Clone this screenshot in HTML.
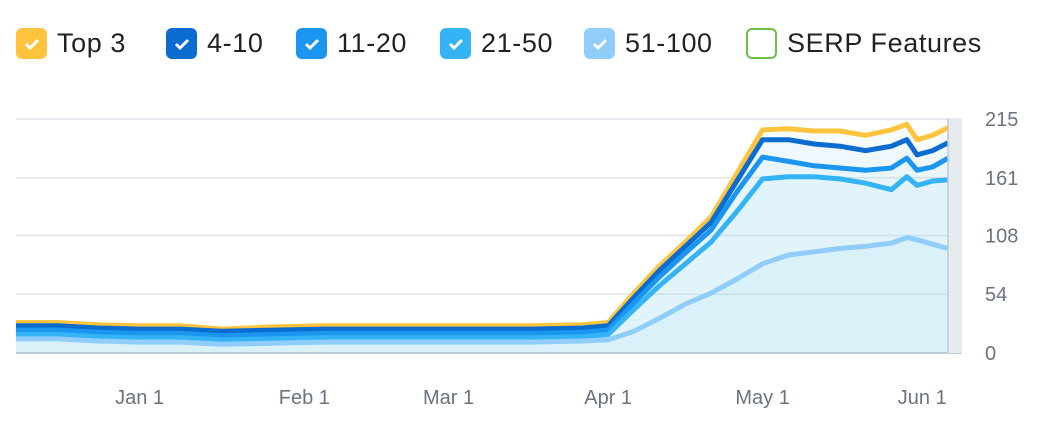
<!DOCTYPE html>
<html><head><meta charset="utf-8"><style>
body{margin:0;width:1042px;height:444px;background:#fff;font-family:"Liberation Sans",sans-serif;overflow:hidden;position:relative}
.lg{position:absolute;top:28px;height:31px;display:flex;align-items:center;font-size:27px;color:#1f2328;letter-spacing:0.6px}
.bx{width:31px;height:31px;border-radius:6px;margin-right:10px;display:flex;align-items:center;justify-content:center;box-sizing:border-box}
</style></head><body>
<div class="lg" style="left:16px"><div class="bx" style="background:#ffc43d"><svg width="16" height="12"><path d="M2 6l4 4 8-8" stroke="#fff" stroke-width="3" fill="none"/></svg></div>Top 3</div>
<div class="lg" style="left:166px"><div class="bx" style="background:#0a6ccf"><svg width="16" height="12"><path d="M2 6l4 4 8-8" stroke="#fff" stroke-width="3" fill="none"/></svg></div>4-10</div>
<div class="lg" style="left:296px"><div class="bx" style="background:#1a96f0"><svg width="16" height="12"><path d="M2 6l4 4 8-8" stroke="#fff" stroke-width="3" fill="none"/></svg></div>11-20</div>
<div class="lg" style="left:440px"><div class="bx" style="background:#35b4f5"><svg width="16" height="12"><path d="M2 6l4 4 8-8" stroke="#fff" stroke-width="3" fill="none"/></svg></div>21-50</div>
<div class="lg" style="left:584px"><div class="bx" style="background:#90cdfb"><svg width="16" height="12"><path d="M2 6l4 4 8-8" stroke="#fff" stroke-width="3" fill="none"/></svg></div>51-100</div>
<div class="lg" style="left:746px"><div class="bx" style="background:#fff;border:2px solid #6cc04a"></div>SERP Features</div>
<svg id="chart" width="1042" height="444" style="position:absolute;left:0;top:0"></svg>
<script>
const days=[0,8,16,24,32,40,50,60,70,80,90,100,110,115,120,125,130,135,140,145,150,155,160,165,170,173,175,178,181];
const top3=[28,28,26,25,25,22,24,25,25,25,25,25,26,28,55,80,102,125,165,205,206,204,204,200,205,210,196,200,207];
const pos4to10=[25,25,23,22,22,20,21,22,22,22,22,22,23,25,51,76,98,120,158,196,196,192,190,186,190,196,182,186,193];
const pos11to20=[21,21,19,18,18,16,17,18,18,18,18,18,19,21,46,70,92,113,148,180,176,172,170,168,170,179,168,171,179];
const pos21to50=[17,17,15,14,14,12,13,14,14,14,14,14,15,17,40,62,82,102,130,160,162,162,160,156,150,162,154,158,159];
const pos51to100=[13,13,11,10,10,8,9,10,10,10,10,10,11,12,20,32,45,55,68,82,90,93,96,98,101,106,104,100,96];
const yTicks=[0,54,108,161,215];
const xLabels=["Jan 1","Feb 1","Mar 1","Apr 1","May 1","Jun 1"];
const xLabelDays=[24,56,84,115,145,176];
const NS="http://www.w3.org/2000/svg",svg=document.getElementById('chart');
const X0=16,X1=948,Y0=353,Y1=119,DMAX=181,VMAX=215;
const xs=d=>X0+(X1-X0)*d/DMAX, ys=v=>Y0-(Y0-Y1)*v/VMAX;
function mk(t,a){const e=document.createElementNS(NS,t);for(const k in a)e.setAttribute(k,a[k]);svg.appendChild(e);return e;}
yTicks.forEach(v=>{
const l=mk('line',{x1:X0,x2:962,y1:ys(v),y2:ys(v),stroke:v?'#e1e4ea':'#c2c8d2','stroke-width':v?1.5:2});


const t=mk('text',{x:985,y:ys(v)+7,'font-size':20,fill:'#6b7280'});t.textContent=v;


});
xLabels.forEach((s,i)=>{
const t=mk('text',{x:xs(xLabelDays[i]),y:404,'font-size':20,fill:'#6b7280','text-anchor':'middle'});t.textContent=s;


});
const strip=mk('rect',{x:948,y:Y1,width:14,height:Y0-Y1,fill:'#e6ebef'});


const series=[[pos51to100,'#90cdfb','series-51-100'],[pos21to50,'#35b4f5','series-21-50'],[pos11to20,'#1a96f0','series-11-20'],[pos4to10,'#0a6ccf','series-4-10'],[top3,'#ffc43d','series-top-3']];
series.forEach(([vals,c,n])=>{
const pts=days.map((d,i)=>xs(d).toFixed(1)+','+ys(vals[i]).toFixed(1));
const a=mk('path',{d:'M'+xs(days[0])+','+Y0+' L'+pts.join(' L')+' L'+xs(days[days.length-1])+','+Y0+'Z',fill:'#9fd3f8','fill-opacity':0.08});


});
series.slice().reverse().forEach(([vals,c,n])=>{
const pts=days.map((d,i)=>xs(d).toFixed(1)+','+ys(vals[i]).toFixed(1));
const p=mk('path',{d:'M'+pts.join(' L'),fill:'none',stroke:c,'stroke-width':5,'stroke-linejoin':'round'});


});
const vl=mk('line',{x1:X1,x2:X1,y1:Y1,y2:Y0,stroke:'#c2c8d2','stroke-width':1.5});


</script>
</body></html>
